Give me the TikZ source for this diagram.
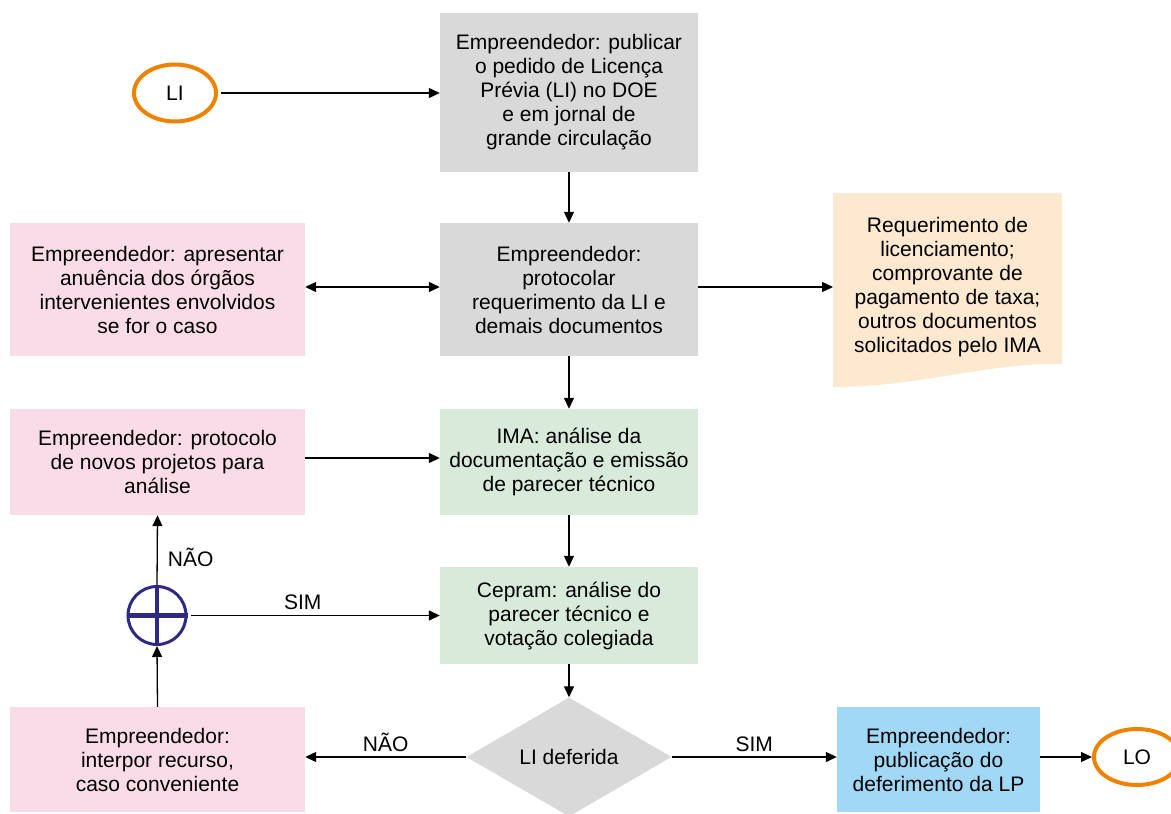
\documentclass[tikz,border=0pt]{standalone}
\usepackage{fontspec}
\setmainfont{Liberation Sans}
\usetikzlibrary{arrows.meta,shapes.geometric}
\definecolor{gbox}{HTML}{D9D9D9}
\definecolor{pbox}{HTML}{F9DCE7}
\definecolor{obox}{HTML}{FDE8D0}
\definecolor{vbox}{HTML}{D8EBDA}
\definecolor{bbox}{HTML}{A0D8F5}
\definecolor{orng}{HTML}{EF8200}
\definecolor{navy}{HTML}{2E2A82}
\tikzset{
  box/.style={rectangle, inner sep=0pt, align=center, font=\fontsize{21}{24}\selectfont},
  gray/.style={box, fill=gbox},
  pink/.style={box, fill=pbox},
  green/.style={box, fill=vbox},
  blue/.style={box, fill=bbox},
  term/.style={ellipse, draw=orng, line width=4pt, inner sep=0pt, font=\fontsize{21}{24}\selectfont},
  conn/.style={line width=1.3pt, -{Triangle[length=11pt,width=10pt]}},
  lbl/.style={font=\fontsize{21}{24}\selectfont, inner sep=0pt}
}
\begin{document}
\begin{tikzpicture}[x=1pt,y=-1pt]
\useasboundingbox (0,0) rectangle (1171,814);
\begin{scope}
\clip (0,0) rectangle (1171,814);
% nodes
\node[term, minimum width=82pt, minimum height=57pt] (li) at (175,93) {LI};
\node[gray, minimum width=258pt, minimum height=159pt] (b1) at (569,92.5)
  {Empreendedor: publicar\\o pedido de Licença\\Prévia (LI) no DOE\\e em jornal de\\grande circulação};
\node[gray, minimum width=258pt, minimum height=133pt] (b2) at (569,289.5)
  {Empreendedor:\\protocolar\\requerimento da LI e\\demais documentos};
\node[pink, minimum width=295pt, minimum height=133pt] (pa) at (157.5,289.5)
  {Empreendedor: apresentar\\anuência dos órgãos\\intervenientes envolvidos\\se for o caso};
% document shape
\fill[obox] (833,193) -- (1062,193) -- (1062,364)
  .. controls (990,362) and (920,387) .. (833,387) -- cycle;
\coordinate (docw) at (833,287);
\node[box] (doc) at (947.5,287)
  {Requerimento de\\licenciamento;\\comprovante de\\pagamento de taxa;\\outros documentos\\solicitados pelo IMA};
\node[green, minimum width=258pt, minimum height=106pt] (b3) at (569,462)
  {IMA: análise da\\documentação e emissão\\de parecer técnico};
\node[pink, minimum width=295pt, minimum height=106pt] (pb) at (157.5,462)
  {Empreendedor: protocolo\\de novos projetos para\\análise};
\node[green, minimum width=258pt, minimum height=97pt] (b4) at (569,615.5)
  {Cepram: análise do\\parecer técnico e\\votação colegiada};
\node[circle, draw=navy, line width=3pt, minimum size=58pt, inner sep=0pt] (x) at (157,615.5) {};
\draw[navy, line width=4.5pt] (x.north) -- (x.south) (x.west) -- (x.east);
\node[pink, minimum width=295pt, minimum height=105pt] (pc) at (157.5,759.5)
  {Empreendedor:\\interpor recurso,\\caso conveniente};
\node[diamond, fill=gbox, inner sep=0pt, aspect=1.74, minimum width=205pt, minimum height=119pt,
  font=\fontsize{21}{24}\selectfont] (d) at (569,757) {LI deferida};
\node[blue, minimum width=203pt, minimum height=105pt] (bl) at (938.5,759.5)
  {Empreendedor:\\publicação do\\deferimento da LP};
\node[term, minimum width=86pt, minimum height=56pt] (lo) at (1137,757) {LO};
% connectors
\draw[conn] (li.east) ++(3,0) -- (b1.west |- li.east);
\draw[conn] (b1.south) -- (b2.north);
\draw[line width=1.3pt, {Triangle[length=11pt,width=10pt]}-{Triangle[length=11pt,width=10pt]}] (pa.east |- docw) -- (b2.west |- docw);
\draw[conn] (b2.east |- docw) -- (docw);
\draw[conn] (b2.south) -- (b3.north);
\draw[conn] (pb.east |- 0,458) -- (b3.west |- 0,458);
\draw[conn] (b3.south) -- (b4.north);
\draw[conn] (x.east) ++(3,0) -- node[lbl, above=5pt, pos=0.45] (sim1) {SIM} (b4.west |- x.east);
\draw[conn] (x.north) -- node[lbl, right=10pt, pos=0.4] (nao1) {NÃO} (pb.south);
\draw[conn] (pc.north) -- (x.south);
\draw[conn] (b4.south) -- (d.north);
\draw[conn] (d.west) -- node[lbl, above=5pt, pos=0.5] (nao2) {NÃO} (pc.east |- d.west);
\draw[conn] (d.east) -- node[lbl, above=5pt, pos=0.5] (sim2) {SIM} (bl.west |- d.east);
\draw[conn] (bl.east |- lo.west) -- (lo.west);
\end{scope}
\end{tikzpicture}
\end{document}
